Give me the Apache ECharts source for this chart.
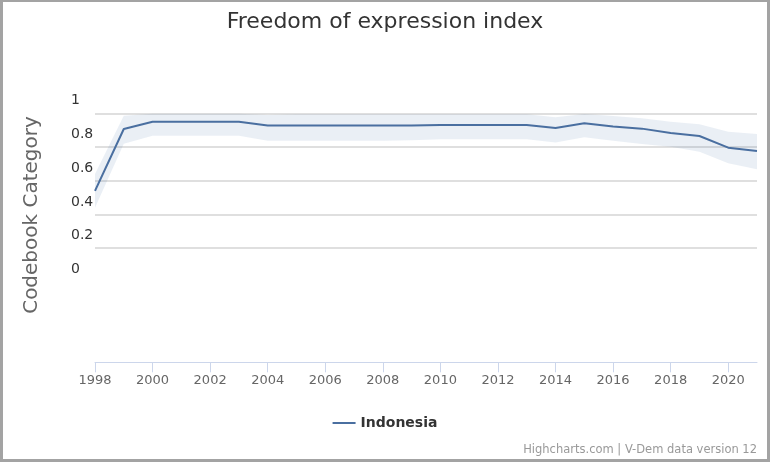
<!DOCTYPE html>
<html>
<head>
<meta charset="utf-8">
<script src="https://cdn.jsdelivr.net/npm/echarts@6/dist/echarts.min.js"></script>
<style>
html,body{margin:0;padding:0;background:#fff;}
#wrap{position:relative;width:770px;height:462px;}
#chart{width:770px;height:462px;}
#frame{position:absolute;left:0;top:0;width:770px;height:462px;box-sizing:border-box;border-style:solid;border-color:#a3a3a3;border-width:2px 3px 3px 3px;pointer-events:none;}
</style>
</head>
<body>
<div id="wrap"><div id="chart"></div><div id="frame"></div></div>
<script>
const years = ['1998','1999','2000','2001','2002','2003','2004','2005','2006','2007','2008','2009','2010','2011','2012','2013','2014','2015','2016','2017','2018','2019','2020','2021'];
const indonesia = [0.54,0.907,0.95,0.95,0.95,0.95,0.927,0.927,0.927,0.927,0.927,0.927,0.93,0.93,0.93,0.93,0.913,0.941,0.921,0.909,0.883,0.865,0.796,0.776];
const upper = [0.64,0.986,0.997,0.997,0.997,0.997,0.99,0.995,0.995,0.995,0.995,0.995,0.995,0.995,0.995,0.995,0.976,0.996,0.984,0.97,0.95,0.935,0.891,0.877];
const lower = [0.44,0.82,0.867,0.867,0.867,0.867,0.837,0.837,0.837,0.837,0.837,0.84,0.846,0.846,0.846,0.846,0.826,0.858,0.837,0.818,0.802,0.772,0.703,0.668];
const yTicks = {min:0, max:1, interval:0.2};

const bandWidth = upper.map((u,i)=>+(u-lower[i]).toFixed(4));
const chart = echarts.init(document.getElementById('chart'));
chart.setOption({
  animation:false,
  backgroundColor:'#ffffff',
  textStyle:{fontFamily:'DejaVu Sans'},
  title:{text:'Freedom of expression index',left:'center',top:6,
    textStyle:{fontFamily:'DejaVu Sans',fontSize:22,fontWeight:'normal',color:'#333333'}},
  legend:{data:[{name:'Indonesia',icon:'rect'}],left:'center',top:411,itemWidth:23,itemHeight:2,
    textStyle:{fontFamily:'DejaVu Sans',fontSize:14,fontWeight:'bold',color:'#333333'}},
  grid:{left:95,right:13,top:113.3,bottom:180.2,containLabel:false},
  xAxis:{type:'category',data:years,boundaryGap:false,offset:80.5,
    axisLine:{onZero:false,lineStyle:{color:'#ccd6eb',width:1}},
    axisTick:{interval:1,length:10,lineStyle:{color:'#ccd6eb'}},
    axisLabel:{interval:1,margin:12,fontSize:13,color:'#666666',fontFamily:'DejaVu Sans'},
    splitLine:{show:false}},
  yAxis:{type:'value',min:yTicks.min,max:yTicks.max,interval:yTicks.interval,
    axisLine:{show:false},axisTick:{show:false},
    axisLabel:{align:'left',verticalAlign:'bottom',margin:24,color:'#333333',
      showMinLabel:true,showMaxLabel:true,
      formatter:function(v){return '{a|' + v + '}';},
      rich:{a:{fontFamily:'DejaVu Sans',fontSize:14,lineHeight:16,color:'#333333',padding:[0,0,9,0]}}},
    splitLine:{show:true,showMinLine:false,lineStyle:{color:'#d4d4d4',width:1.5}}},
  series:[
    {name:'lower',type:'line',stack:'ci',data:lower,symbol:'none',lineStyle:{opacity:0},silent:true,z:1},
    {name:'range',type:'line',stack:'ci',data:bandWidth,symbol:'none',lineStyle:{opacity:0},
      areaStyle:{color:'rgba(69,114,167,0.16)'},silent:true,z:1},
    {name:'Indonesia',type:'line',data:indonesia,symbol:'none',color:'#4a6fa0',
      lineStyle:{color:'#4a6fa0',width:2},z:3}
  ],
  graphic:[
    {type:'text',x:32,y:215,rotation:Math.PI/2,
      style:{text:'Codebook Category',fontFamily:'DejaVu Sans',fontSize:20,fill:'#666666',align:'center',verticalAlign:'middle'}},
    {type:'text',right:13,top:444,
      style:{text:'Highcharts.com | V-Dem data version 12',fontFamily:'DejaVu Sans',fontSize:11.5,fill:'#999999'}}
  ]
});
</script>
</body>
</html>
